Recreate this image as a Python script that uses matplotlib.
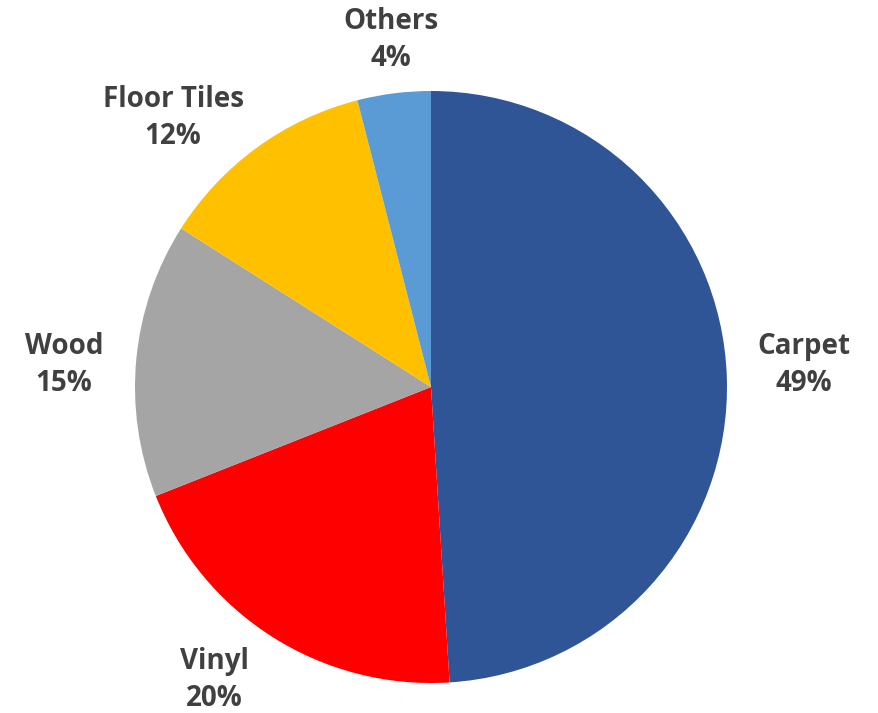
import matplotlib
matplotlib.use("Agg")
import matplotlib.pyplot as plt
import numpy as np

categories = ["Carpet", "Vinyl", "Wood", "Floor Tiles", "Others"]
values = [49, 20, 15, 12, 4]
colors = ["#2F5597", "#FF0000", "#A5A5A5", "#FFC000", "#5B9BD5"]

# label placement (radial distance, angular shift from wedge middle, degrees)
label_dist = [1.262, 1.232, 1.242, 1.259, 1.180]
label_shift = [1.6, -4.1, 2.0, 7.8, -0.6]

W, H = 879, 713
cx, cy, R = 431, 387, 296

fig = plt.figure(figsize=(W / 100, H / 100), dpi=100)
ax = fig.add_axes([0, 0, 1, 1])
wedges, _ = ax.pie(values, colors=colors, startangle=90, counterclock=False,
                   radius=1.0, wedgeprops=dict(linewidth=0))
for w, c, v, d, s in zip(wedges, categories, values, label_dist, label_shift):
    mid = np.deg2rad((w.theta1 + w.theta2) / 2 + s)
    ax.text(d * np.cos(mid), d * np.sin(mid), f"{c}\n{v}%",
            ha="center", va="center", multialignment="center",
            fontfamily="Open Sans", fontweight="bold", fontsize=20,
            color="#404040", linespacing=1.35)

ax.set_xlim(-cx / R, (W - cx) / R)
ax.set_ylim(-(H - cy) / R, cy / R)
ax.set_aspect("equal")
ax.axis("off")
fig.savefig("out.png", dpi=100)
